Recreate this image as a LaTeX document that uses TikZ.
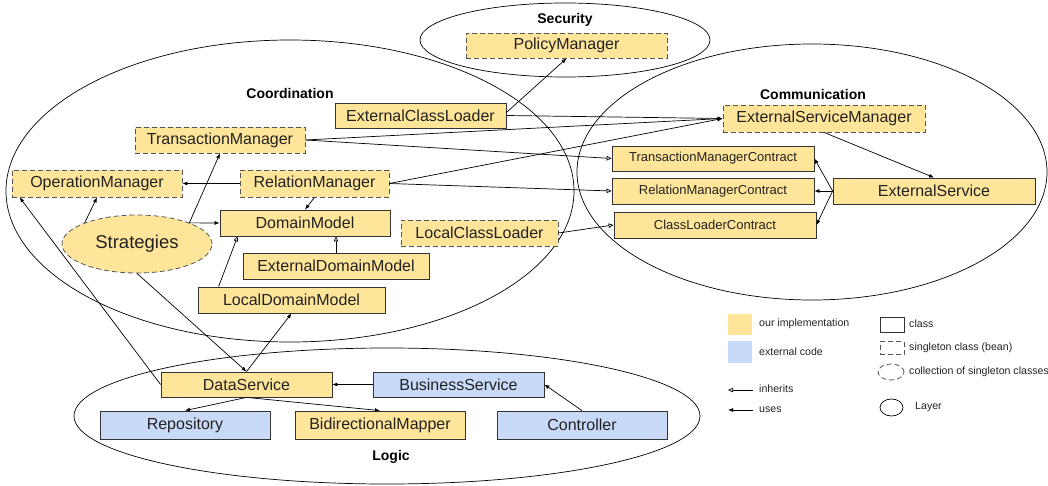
\documentclass[tikz,border=0pt]{standalone}
\usepackage{fontspec}
\setmainfont{Liberation Sans}
\usetikzlibrary{arrows.meta,shapes.geometric,calc}
\definecolor{impl}{HTML}{FFE599}
\definecolor{ext}{HTML}{C9DAF8}
\definecolor{ink}{HTML}{222222}
\definecolor{edge}{HTML}{333333}
\definecolor{dashedge}{HTML}{555555}

\begin{document}
\begin{tikzpicture}[x=1pt,y=-1pt,
  font=\fontsize{16}{18}\selectfont,
  box/.style={draw=edge, line width=0.8pt, fill=impl, inner sep=0pt, text=ink, anchor=center},
  single/.style={box, draw=dashedge, dash pattern=on 5pt off 3pt},
  extbox/.style={box, fill=ext},
  contract/.style={box, font=\fontsize{13}{15}\selectfont},
  layer/.style={draw=black, line width=0.7pt, ellipse, inner sep=0pt},
  layertitle/.style={font=\fontsize{14}{16}\selectfont\bfseries, text=black, inner sep=0pt},
  uses/.style={draw=black, line width=0.7pt, -{Latex[length=5pt,width=4pt]}},
  inh/.style={draw=black, line width=0.7pt, -{Triangle[open,length=5pt,width=4.5pt]}},
  legend/.style={font=\fontsize{10.6}{12}\selectfont, text=ink, anchor=west, inner sep=0pt},
]
\useasboundingbox (0,0) rectangle (1048,486);

% ---- layers ----
\node[layer, minimum width=290, minimum height=74] (security) at (565,40) {};
\node[layer, minimum width=568, minimum height=302] (coord) at (290,191) {};
\node[layer, minimum width=470, minimum height=256] (comm) at (812,172) {};
\node[layer, minimum width=626, minimum height=136] (logic) at (387,416) {};

\node[layertitle] (securitytitle) at (565,20) {Security};
\node[layertitle] (coordtitle) at (290,93) {Coordination};
\node[layertitle] (commtitle) at (813,94) {Communication};
\node[layertitle] (logictitle) at (391,457) {Logic};

% ---- security ----
\node[single, minimum width=201, minimum height=25] (pm) at (566.5,45.5) {PolicyManager};

% ---- coordination ----
\node[box, minimum width=171, minimum height=25] (ecl) at (420.5,115.5) {ExternalClassLoader};
\node[single, minimum width=170, minimum height=26] (tm) at (220,140) {TransactionManager};
\node[single, minimum width=170, minimum height=27] (om) at (97,183.5) {OperationManager};
\node[single, minimum width=149, minimum height=27] (rm) at (314.5,183.5) {RelationManager};
\node[box, minimum width=170, minimum height=26] (dm) at (305,223) {DomainModel};
\node[single, ellipse, minimum width=150, minimum height=58, font=\fontsize{18.5}{20}\selectfont] (strat) at (137,244) {Strategies};
\node[box, minimum width=186, minimum height=26] (edm) at (336,266) {ExternalDomainModel};
\node[box, minimum width=187, minimum height=26] (ldm) at (291.5,300) {LocalDomainModel};
\node[single, minimum width=157, minimum height=26] (lcl) at (479.5,233) {LocalClassLoader};

% ---- communication ----
\node[single, minimum width=202, minimum height=27] (esm) at (824,118.5) {ExternalServiceManager};
\node[contract, minimum width=202, minimum height=25] (tmc) at (713,158.5) {TransactionManagerContract};
\node[contract, minimum width=202, minimum height=26] (rmc) at (713,191) {RelationManagerContract};
\node[contract, minimum width=202, minimum height=26] (clc) at (715,225) {ClassLoaderContract};
\node[box, minimum width=202, minimum height=26] (es) at (934,191) {ExternalService};

% ---- logic ----
\node[box, minimum width=171, minimum height=25] (ds) at (246.5,384.5) {DataService};
\node[extbox, minimum width=171, minimum height=25] (bs) at (458.5,384.5) {BusinessService};
\node[extbox, minimum width=170, minimum height=28] (repo) at (185,425) {Repository};
\node[box, minimum width=170, minimum height=28] (bm) at (380,425) {BidirectionalMapper};
\node[extbox, minimum width=170, minimum height=28] (ctrl) at (582,425) {Controller};

% ---- connectors ----
\draw[uses] ([yshift=3pt]ecl.east) -- (pm.south);
\draw[uses] (ecl.east) -- (esm.west);
\draw[uses] (tm.east) -- (esm.west);
\draw[inh] (tm.east) -- (tmc.west);
\draw[uses] (rm.east) -- (esm.west);
\draw[inh] (rm.east) -- (rmc.west);
\draw[inh] (lcl.east) -- (clc.west);
\draw[uses] (esm.south) -- (es.north);
\draw[uses] (es.west) -- (tmc.east);
\draw[uses] (es.west) -- (rmc.east);
\draw[uses] (es.west) -- (clc.east);
\draw[uses] (rm.west) -- (om.east);
\draw[uses] (rm.south) -- (dm.north);
\draw[uses] (strat.22) -- (tm.south);
\draw[uses] (strat.158) -- (om.south);
\draw[uses] (strat.22) -- (dm.west);
\draw[inh] (edm.north) -- (edm.north |- dm.south);
\draw[inh] ($(ldm.north west)+(21,0)$) -- ($(dm.south west)+(18,0)$);
\draw[uses] (ds.west) -- ($(om.south west)+(8,0)$);
\draw[uses] (strat.south) -- (ds.north);
\draw[uses] (ds.north) -- (ldm.south);
\draw[uses] (bs.west) -- (ds.east);
\draw[uses] (ds.south) -- (repo.north);
\draw[uses] (ds.south) -- (bm.north);
\draw[uses] (ctrl.north) -- (bs.east);

% ---- legend ----
\node[fill=impl, minimum width=24, minimum height=21, inner sep=0pt] (lgimpl) at (740,324.5) {};
\node[legend] (lgimpltext) at (759,324) {our implementation};
\node[fill=ext, minimum width=24, minimum height=22, inner sep=0pt] (lgext) at (740,352) {};
\node[legend] (lgexttext) at (759,351.5) {external code};

\coordinate (lginhA) at (753,390);
\coordinate (lginhB) at (728,390);
\draw[inh] (lginhA) -- (lginhB);
\node[legend] (lginhtext) at (759,389) {inherits};
\coordinate (lgusesA) at (753,410);
\coordinate (lgusesB) at (728,410);
\draw[uses] (lgusesA) -- (lgusesB);
\node[legend] (lgusestext) at (759,409.5) {uses};

\node[draw=edge, line width=0.8pt, minimum width=24, minimum height=15, inner sep=0pt] (lgclass) at (892,324.5) {};
\node[legend] (lgclasstext) at (909,324) {class};
\node[draw=dashedge, line width=0.8pt, dash pattern=on 5pt off 3pt, minimum width=24, minimum height=13, inner sep=0pt] (lgsingle) at (892,348) {};
\node[legend] (lgsingletext) at (909,347.5) {singleton class (bean)};
\node[draw=dashedge, line width=0.8pt, dash pattern=on 5pt off 3pt, ellipse, minimum width=26, minimum height=16, inner sep=0pt] (lgcoll) at (891,372) {};
\node[legend] (lgcolltext) at (909,372) {collection of singleton classes};
\node[draw=black, line width=0.7pt, ellipse, minimum width=23, minimum height=17, inner sep=0pt] (lglayer) at (891.5,407.5) {};
\node[legend] (lglayertext) at (915,407) {Layer};
\end{tikzpicture}
\end{document}
